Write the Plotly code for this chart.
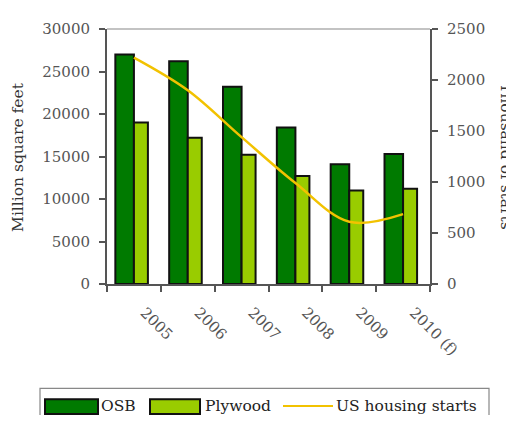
import plotly.graph_objects as go

years = ["2005", "2006", "2007", "2008", "2009", "2010 (f)"]
osb = [27000, 26200, 23200, 18400, 14100, 15300]
plywood = [19000, 17200, 15200, 12700, 11000, 11200]
housing_starts = [2220, 1900, 1440, 990, 610, 685]

# page body adds an 8px margin; figure is sized to fit the window inside it
OFF = 8
W, H = 514 - OFF, 423 - 2 * OFF
L, R, T, B = 107, 430, 25, 284   # plot area in reference pixel coords
FONT = "DejaVu Serif"

def px(x):
    return (x - L) / (R - L)

def py(y):
    return (B - y) / (B - T)

fig = go.Figure()
fig.add_trace(go.Bar(x=years, y=osb, name="OSB", offset=-0.345, width=0.345,
                     marker=dict(color="#007A00", line=dict(color="#111111", width=2)),
                     yaxis="y"))
fig.add_trace(go.Bar(x=years, y=plywood, name="Plywood", offset=0.0, width=0.26,
                     marker=dict(color="#99CC00", line=dict(color="#111111", width=2)),
                     yaxis="y"))
fig.add_trace(go.Scatter(x=years, y=housing_starts, name="US housing starts", mode="lines",
                         line=dict(color="#F2C200", width=2.5, shape="spline", smoothing=1),
                         yaxis="y2"))

tickfont = dict(family=FONT, size=15, color="#555555")

shapes = [
    dict(type="line", xref="paper", yref="paper", x0=0, x1=1, y0=1, y1=1,
         line=dict(color="#888888", width=1.2)),
    dict(type="rect", xref="paper", yref="paper", x0=px(40), x1=px(489), y0=py(390), y1=py(440),
         line=dict(color="#888888", width=1.2), fillcolor="rgba(0,0,0,0)"),
    dict(type="rect", xref="paper", yref="paper", x0=px(45), x1=px(98), y0=py(401), y1=py(416),
         line=dict(color="#111111", width=2), fillcolor="#007A00"),
    dict(type="rect", xref="paper", yref="paper", x0=px(150), x1=px(200), y0=py(401), y1=py(416),
         line=dict(color="#111111", width=2), fillcolor="#99CC00"),
    dict(type="line", xref="paper", yref="paper", x0=px(283), x1=px(333), y0=py(408), y1=py(408),
         line=dict(color="#F2C200", width=2)),
]

legfont = dict(family=FONT, size=15.5, color="#222222")
annotations = [
    dict(text="OSB", xref="paper", yref="paper", x=px(99), y=py(408), xanchor="left",
         yanchor="middle", showarrow=False, font=legfont),
    dict(text="Plywood", xref="paper", yref="paper", x=px(203), y=py(408), xanchor="left",
         yanchor="middle", showarrow=False, font=legfont),
    dict(text="US housing starts", xref="paper", yref="paper", x=px(334), y=py(408),
         xanchor="left", yanchor="middle", showarrow=False, font=legfont),
    dict(text="Million square feet", xref="paper", yref="paper", x=px(18), y=py(155),
         xanchor="center", yanchor="middle", textangle=-90, showarrow=False,
         font=dict(family=FONT, size=15.5, color="#333333")),
    dict(text="Thousand of starts", xref="paper", yref="paper", x=px(495), y=py(154),
         xanchor="left", yanchor="middle", textangle=90, showarrow=False,
         font=dict(family=FONT, size=15.5, color="#333333")),
]

fig.update_layout(
    width=W, height=H,
    margin=dict(l=L - OFF, r=W - (R - OFF), t=T - OFF, b=H - (B - OFF)),
    paper_bgcolor="white", plot_bgcolor="white",
    showlegend=False,
    barmode="overlay",
    xaxis=dict(type="category", range=[-0.5, 5.5], showline=True, linecolor="#555555",
               linewidth=2, ticks="outside", tickson="boundaries", ticklen=6,
               tickcolor="#555555", tickwidth=1.5, tickangle=45, tickfont=tickfont,
               ticklabelstandoff=12, ticklabelshift=11, showgrid=False, zeroline=False),
    yaxis=dict(range=[0, 30000], dtick=5000, tickformat="d", showline=True,
               linecolor="#555555", linewidth=2, ticks="outside", ticklen=6,
               tickcolor="#555555", tickwidth=1.5, tickfont=tickfont, showgrid=False,
               zeroline=False, ticklabelstandoff=6),
    yaxis2=dict(range=[0, 2500], dtick=500, tickformat="d", overlaying="y", side="right",
                showline=True, linecolor="#555555", linewidth=2, ticks="outside",
                ticklen=6, tickcolor="#555555", tickwidth=1.5, tickfont=tickfont,
                showgrid=False, zeroline=False, ticklabelstandoff=6),
    shapes=shapes,
    annotations=annotations,
)

fig.write_html("out.html")
